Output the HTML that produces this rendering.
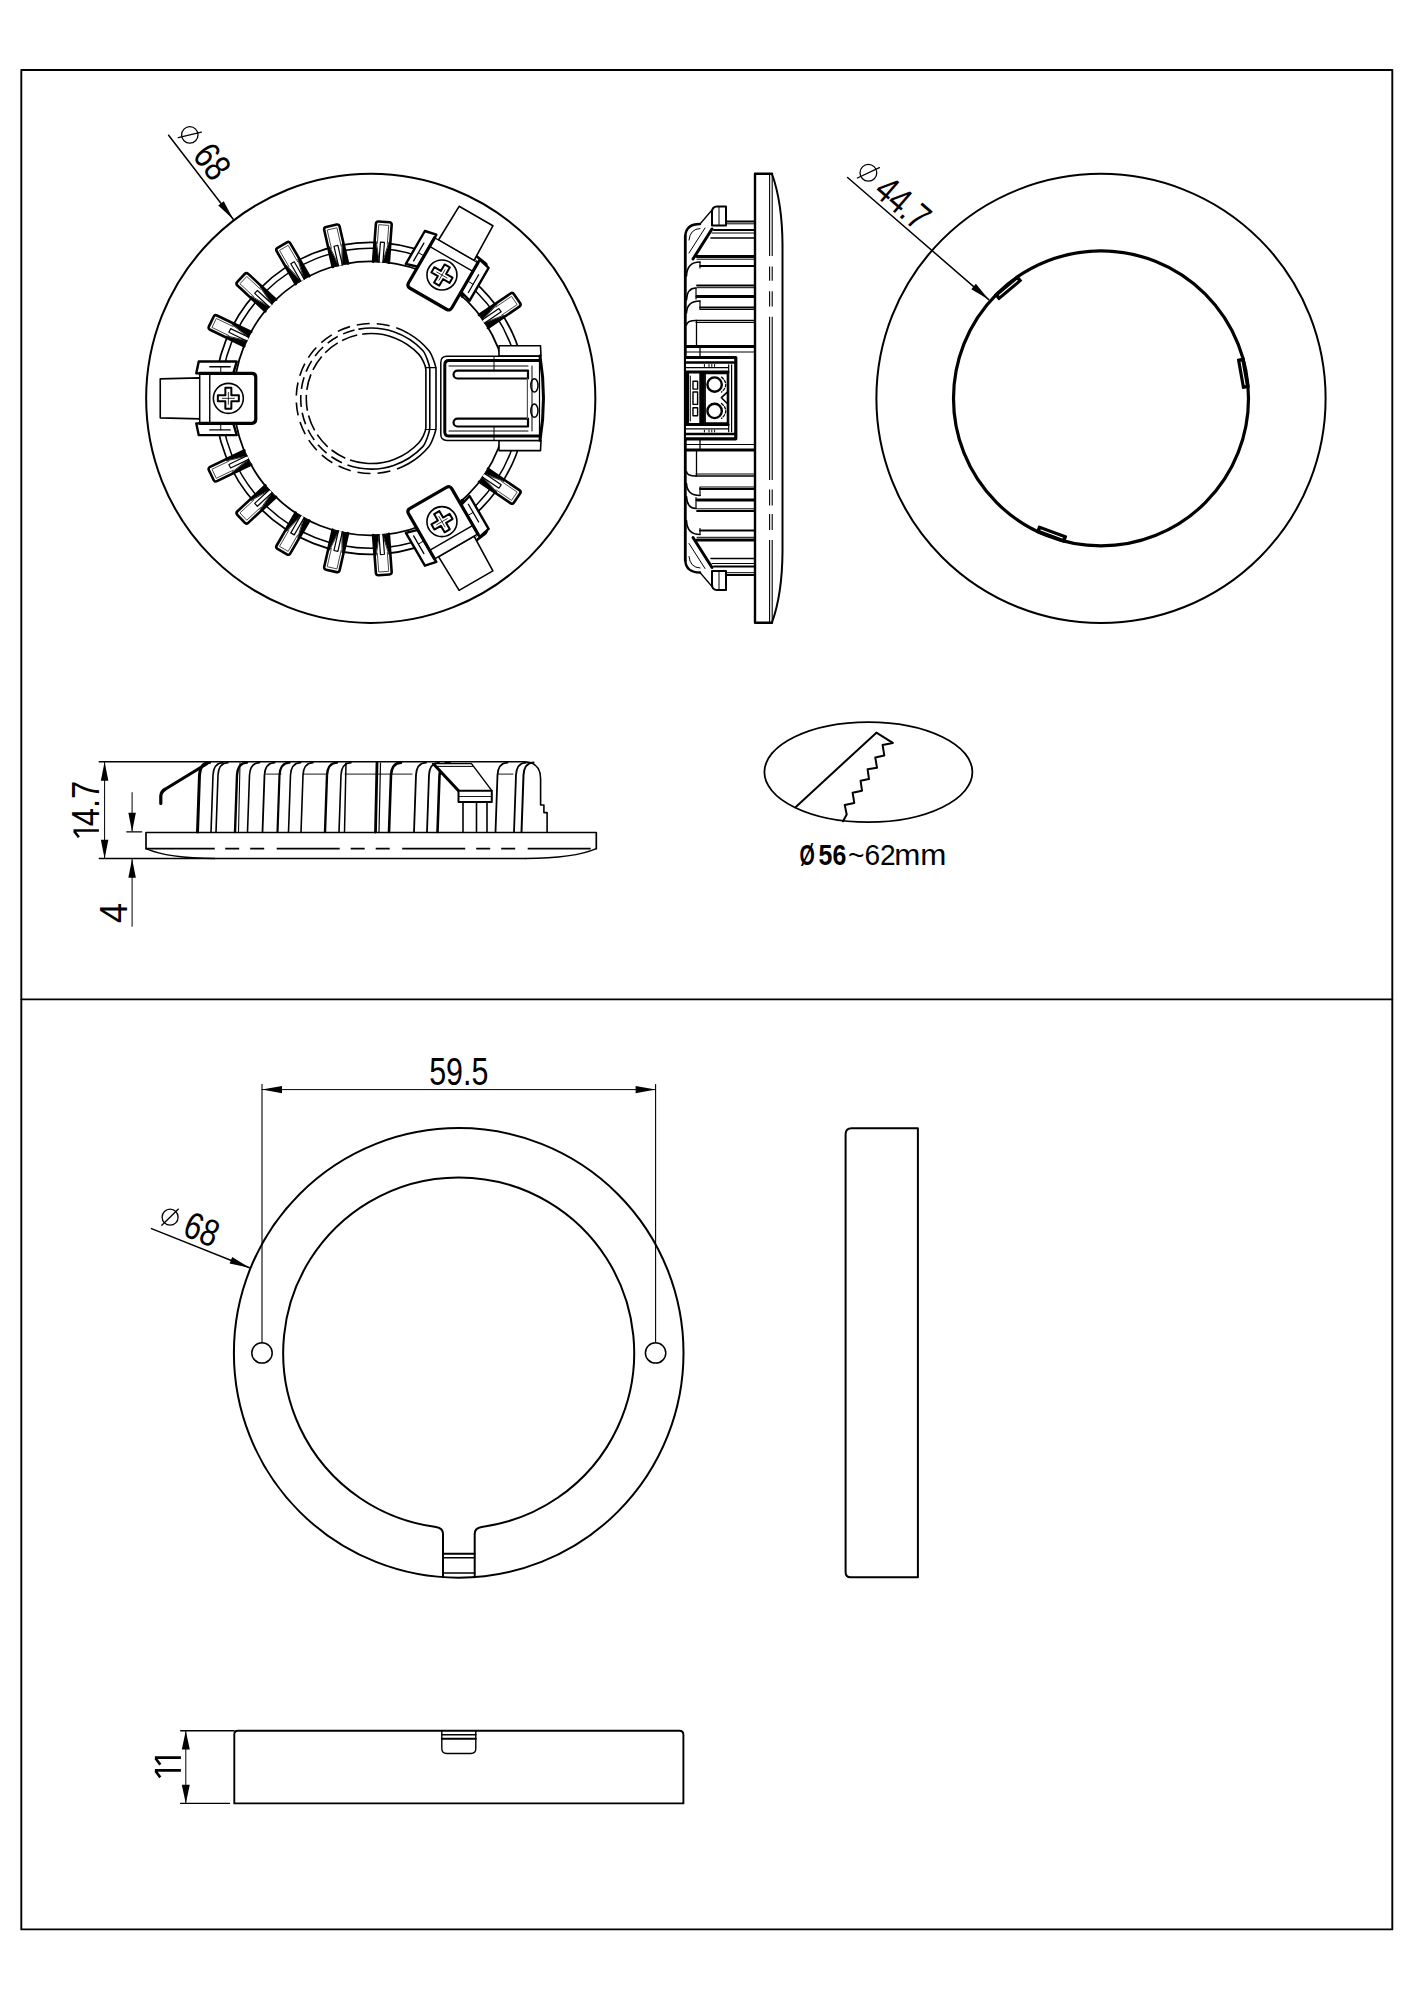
<!DOCTYPE html>
<html><head><meta charset="utf-8"><title>Drawing</title>
<style>
html,body{margin:0;padding:0;background:#fff;overflow:hidden;width:1414px;height:2000px;}
svg{display:block;}
text{font-family:"Liberation Sans",sans-serif;fill:#000;stroke:none;}
</style></head>
<body>
<svg width="1414" height="2000" viewBox="0 0 1414 2000" stroke="#000" fill="none" stroke-linecap="round" stroke-linejoin="round">
<rect x="0" y="0" width="1414" height="2000" fill="#fff" stroke="none"/>
<rect x="21.3" y="70" width="1371" height="1859.4" fill="none" stroke-width="1.9"/>
<line x1="21.3" y1="999.4" x2="1392.3" y2="999.4" stroke-width="1.8" />
<circle cx="370.75" cy="398.35" r="224.6" stroke-width="2.0" fill="none" />
<circle cx="370.75" cy="398.35" r="156" stroke-width="1.7" fill="none" />
<circle cx="370.75" cy="398.35" r="150" stroke-width="1.5" fill="none" />
<circle cx="370.75" cy="398.35" r="137" stroke-width="1.8" fill="none" />
<path d="M244.34,346.24 L210.1,329.75 Q207.85,328.67 208.94,326.42 L213.62,316.69 Q214.71,314.43 216.96,315.52 L251.2,332.01" stroke-width="2.6" fill="#fff" />
<path d="M228.93,335.6 L211.99,327.45 L216.33,318.44 L233.27,326.59" stroke-width="0.9" fill="none" stroke="#333"/>
<path d="M246.9,340.93 L228.88,332.25 L230.62,328.65 L248.64,337.32" stroke-width="1.2" fill="#fff" />
<path d="M246.9,340.93 L244.34,346.24 L225.87,337.35 L226.39,336.27 Z" stroke-width="0.8" fill="#000" />
<path d="M248.64,337.32 L251.2,332.01 L232.73,323.11 L232.2,324.19 Z" stroke-width="0.8" fill="#000" />
<path d="M265.32,311.3 L237.46,285.45 Q235.63,283.75 237.33,281.92 L244.67,274 Q246.37,272.17 248.21,273.87 L276.06,299.72" stroke-width="2.6" fill="#fff" />
<path d="M253.73,296.59 L239.94,283.8 L246.75,276.47 L260.53,289.26" stroke-width="0.9" fill="none" stroke="#333"/>
<path d="M269.33,306.97 L254.67,293.37 L257.39,290.44 L272.05,304.04" stroke-width="1.2" fill="#fff" />
<path d="M269.33,306.97 L265.32,311.3 L250.29,297.35 L251.1,296.47 Z" stroke-width="0.8" fill="#000" />
<path d="M272.05,304.04 L276.06,299.72 L261.03,285.77 L260.22,286.65 Z" stroke-width="0.8" fill="#000" />
<path d="M295.66,284.09 L276.66,251.18 Q275.41,249.01 277.57,247.76 L286.93,242.36 Q289.09,241.11 290.34,243.28 L309.34,276.19" stroke-width="2.6" fill="#fff" />
<path d="M288.92,266.62 L279.52,250.33 L288.18,245.33 L297.58,261.62" stroke-width="0.9" fill="none" stroke="#333"/>
<path d="M300.77,281.14 L290.77,263.82 L294.23,261.82 L304.23,279.14" stroke-width="1.2" fill="#fff" />
<path d="M300.77,281.14 L295.66,284.09 L285.41,266.33 L286.45,265.73 Z" stroke-width="0.8" fill="#000" />
<path d="M304.23,279.14 L309.34,276.19 L299.09,258.43 L298.05,259.03 Z" stroke-width="0.8" fill="#000" />
<path d="M332.67,267.03 L324.22,229.98 Q323.66,227.55 326.1,226.99 L336.63,224.59 Q339.07,224.03 339.62,226.47 L348.08,263.51" stroke-width="2.6" fill="#fff" />
<path d="M331.38,248.35 L327.2,230.02 L336.95,227.79 L341.13,246.12" stroke-width="0.9" fill="none" stroke="#333"/>
<path d="M338.43,265.72 L333.98,246.22 L337.88,245.33 L342.33,264.83" stroke-width="1.2" fill="#fff" />
<path d="M338.43,265.72 L332.67,267.03 L328.11,247.04 L329.28,246.78 Z" stroke-width="0.8" fill="#000" />
<path d="M342.33,264.83 L348.08,263.51 L343.52,243.53 L342.35,243.8 Z" stroke-width="0.8" fill="#000" />
<path d="M373.07,261.64 L375.91,223.75 Q376.1,221.25 378.59,221.44 L389.36,222.25 Q391.86,222.44 391.67,224.93 L388.83,262.82" stroke-width="2.6" fill="#fff" />
<path d="M377.35,243.41 L378.75,224.66 L388.72,225.41 L387.32,244.16" stroke-width="0.9" fill="none" stroke="#333"/>
<path d="M378.96,262.08 L380.45,242.14 L384.44,242.44 L382.95,262.38" stroke-width="1.2" fill="#fff" />
<path d="M378.96,262.08 L373.07,261.64 L374.6,241.2 L375.8,241.29 Z" stroke-width="0.8" fill="#000" />
<path d="M382.95,262.38 L388.83,262.82 L390.36,242.38 L389.16,242.29 Z" stroke-width="0.8" fill="#000" />
<path d="M449.68,286.7 L473.37,256.99 Q474.93,255.04 476.89,256.6 L485.33,263.33 Q487.28,264.89 485.73,266.85 L462.03,296.56" stroke-width="2.6" fill="#fff" />
<path d="M463.48,274.05 L475.2,259.35 L483.02,265.59 L471.3,280.28" stroke-width="0.9" fill="none" stroke="#333"/>
<path d="M454.29,290.38 L466.76,274.75 L469.89,277.24 L457.42,292.88" stroke-width="1.2" fill="#fff" />
<path d="M454.29,290.38 L449.68,286.7 L462.46,270.68 L463.4,271.43 Z" stroke-width="0.8" fill="#000" />
<path d="M457.42,292.88 L462.03,296.56 L474.81,280.53 L473.88,279.78 Z" stroke-width="0.8" fill="#000" />
<path d="M479.08,314.93 L510.48,293.52 Q512.54,292.12 513.95,294.18 L520.04,303.1 Q521.44,305.17 519.38,306.58 L487.98,327.98" stroke-width="2.6" fill="#fff" />
<path d="M496,306.9 L511.53,296.31 L517.17,304.58 L501.63,315.17" stroke-width="0.9" fill="none" stroke="#333"/>
<path d="M482.4,319.8 L498.93,308.54 L501.18,311.84 L484.66,323.11" stroke-width="1.2" fill="#fff" />
<path d="M482.4,319.8 L479.08,314.93 L496.02,303.38 L496.7,304.37 Z" stroke-width="0.8" fill="#000" />
<path d="M484.66,323.11 L487.98,327.98 L504.92,316.44 L504.24,315.44 Z" stroke-width="0.8" fill="#000" />
<path d="M487.98,468.72 L519.38,490.12 Q521.44,491.53 520.04,493.6 L513.95,502.52 Q512.54,504.58 510.48,503.18 L479.08,481.77" stroke-width="2.6" fill="#fff" />
<path d="M501.63,481.53 L517.17,492.12 L511.53,500.39 L496,489.8" stroke-width="0.9" fill="none" stroke="#333"/>
<path d="M484.66,473.59 L501.18,484.86 L498.93,488.16 L482.4,476.9" stroke-width="1.2" fill="#fff" />
<path d="M484.66,473.59 L487.98,468.72 L504.92,480.26 L504.24,481.26 Z" stroke-width="0.8" fill="#000" />
<path d="M482.4,476.9 L479.08,481.77 L496.02,493.32 L496.7,492.33 Z" stroke-width="0.8" fill="#000" />
<path d="M462.03,500.14 L485.73,529.85 Q487.28,531.81 485.33,533.37 L476.89,540.1 Q474.93,541.66 473.37,539.71 L449.68,510" stroke-width="2.6" fill="#fff" />
<path d="M471.3,516.42 L483.02,531.11 L475.2,537.35 L463.48,522.65" stroke-width="0.9" fill="none" stroke="#333"/>
<path d="M457.42,503.82 L469.89,519.46 L466.76,521.95 L454.29,506.32" stroke-width="1.2" fill="#fff" />
<path d="M457.42,503.82 L462.03,500.14 L474.81,516.17 L473.88,516.92 Z" stroke-width="0.8" fill="#000" />
<path d="M454.29,506.32 L449.68,510 L462.46,526.02 L463.4,525.27 Z" stroke-width="0.8" fill="#000" />
<path d="M388.83,533.88 L391.67,571.77 Q391.86,574.26 389.36,574.45 L378.59,575.26 Q376.1,575.45 375.91,572.95 L373.07,535.06" stroke-width="2.6" fill="#fff" />
<path d="M387.32,552.54 L388.72,571.29 L378.75,572.04 L377.35,553.29" stroke-width="0.9" fill="none" stroke="#333"/>
<path d="M382.95,534.32 L384.44,554.26 L380.45,554.56 L378.96,534.62" stroke-width="1.2" fill="#fff" />
<path d="M382.95,534.32 L388.83,533.88 L390.36,554.32 L389.16,554.41 Z" stroke-width="0.8" fill="#000" />
<path d="M378.96,534.62 L373.07,535.06 L374.6,555.5 L375.8,555.41 Z" stroke-width="0.8" fill="#000" />
<path d="M348.08,533.19 L339.62,570.23 Q339.07,572.67 336.63,572.11 L326.1,569.71 Q323.66,569.15 324.22,566.72 L332.67,529.67" stroke-width="2.6" fill="#fff" />
<path d="M341.13,550.58 L336.95,568.91 L327.2,566.68 L331.38,548.35" stroke-width="0.9" fill="none" stroke="#333"/>
<path d="M342.33,531.87 L337.88,551.37 L333.98,550.48 L338.43,530.98" stroke-width="1.2" fill="#fff" />
<path d="M342.33,531.87 L348.08,533.19 L343.52,553.17 L342.35,552.9 Z" stroke-width="0.8" fill="#000" />
<path d="M338.43,530.98 L332.67,529.67 L328.11,549.66 L329.28,549.92 Z" stroke-width="0.8" fill="#000" />
<path d="M309.34,520.51 L290.34,553.42 Q289.09,555.59 286.93,554.34 L277.57,548.94 Q275.41,547.69 276.66,545.52 L295.66,512.61" stroke-width="2.6" fill="#fff" />
<path d="M297.58,535.08 L288.18,551.37 L279.52,546.37 L288.92,530.08" stroke-width="0.9" fill="none" stroke="#333"/>
<path d="M304.23,517.56 L294.23,534.88 L290.77,532.88 L300.77,515.56" stroke-width="1.2" fill="#fff" />
<path d="M304.23,517.56 L309.34,520.51 L299.09,538.27 L298.05,537.67 Z" stroke-width="0.8" fill="#000" />
<path d="M300.77,515.56 L295.66,512.61 L285.41,530.37 L286.45,530.97 Z" stroke-width="0.8" fill="#000" />
<path d="M276.06,496.98 L248.21,522.83 Q246.37,524.53 244.67,522.7 L237.33,514.78 Q235.63,512.95 237.46,511.25 L265.32,485.4" stroke-width="2.6" fill="#fff" />
<path d="M260.53,507.44 L246.75,520.23 L239.94,512.9 L253.73,500.11" stroke-width="0.9" fill="none" stroke="#333"/>
<path d="M272.05,492.66 L257.39,506.26 L254.67,503.33 L269.33,489.73" stroke-width="1.2" fill="#fff" />
<path d="M272.05,492.66 L276.06,496.98 L261.03,510.93 L260.22,510.05 Z" stroke-width="0.8" fill="#000" />
<path d="M269.33,489.73 L265.32,485.4 L250.29,499.35 L251.1,500.23 Z" stroke-width="0.8" fill="#000" />
<path d="M251.2,464.69 L216.96,481.18 Q214.71,482.27 213.62,480.01 L208.94,470.28 Q207.85,468.03 210.1,466.95 L244.34,450.46" stroke-width="2.6" fill="#fff" />
<path d="M233.27,470.11 L216.33,478.26 L211.99,469.25 L228.93,461.1" stroke-width="0.9" fill="none" stroke="#333"/>
<path d="M248.64,459.38 L230.62,468.05 L228.88,464.45 L246.9,455.77" stroke-width="1.2" fill="#fff" />
<path d="M248.64,459.38 L251.2,464.69 L232.73,473.59 L232.2,472.51 Z" stroke-width="0.8" fill="#000" />
<path d="M246.9,455.77 L244.34,450.46 L225.87,459.35 L226.39,460.43 Z" stroke-width="0.8" fill="#000" />
<path d="M233.25,423.35 L236.75,435.15 L198.75,435.15 L196.25,423.35 Z" stroke-width="2.4" fill="#fff" />
<path d="M230.25,429.95 L209.75,429.95" stroke-width="1.3" fill="none" />
<path d="M220.75,429.95 L220.75,423.85" stroke-width="1.0" fill="none" />
<path d="M233.25,373.35 L236.75,361.55 L198.75,361.55 L196.25,373.35 Z" stroke-width="2.4" fill="#fff" />
<path d="M230.25,366.75 L209.75,366.75" stroke-width="1.3" fill="none" />
<path d="M220.75,366.75 L220.75,372.85" stroke-width="1.0" fill="none" />
<path d="M199.75,418.85 L160.25,417.85 L160.25,378.85 L199.75,377.85 Z" stroke-width="1.6" fill="#fff" />
<path d="M199.75,423.35 L251.75,423.35 Q255.75,423.35 255.75,419.35 L255.75,377.35 Q255.75,373.35 251.75,373.35 L199.75,373.35" stroke-width="3.2" fill="#fff" />
<line x1="199.75" y1="423.35" x2="199.75" y2="373.35" stroke-width="1.4" />
<line x1="209.75" y1="423.35" x2="209.75" y2="373.35" stroke-width="1.4" />
<circle cx="228.35" cy="398.35" r="15" stroke-width="1.6" fill="none" />
<path d="M217.85,401.35 L225.35,401.35 L225.35,408.85 L231.35,408.85 L231.35,401.35 L238.85,401.35 L238.85,395.35 L231.35,395.35 L231.35,387.85 L225.35,387.85 L225.35,395.35 L217.85,395.35 Z" stroke-width="2.0" fill="#fff" />
<line x1="234.35" y1="398.35" x2="222.35" y2="398.35" stroke-width="0.8" />
<line x1="228.35" y1="404.35" x2="228.35" y2="392.35" stroke-width="0.8" />
<path d="M417.85,266.77 L405.88,263.9 L424.88,230.99 L436.35,234.73 Z" stroke-width="2.4" fill="#fff" />
<path d="M413.63,260.87 L423.88,243.12" stroke-width="1.3" fill="none" />
<path d="M418.38,252.65 L423.67,255.7" stroke-width="1.0" fill="none" />
<path d="M461.15,291.77 L469.62,300.7 L488.62,267.79 L479.65,259.73 Z" stroke-width="2.4" fill="#fff" />
<path d="M468.37,292.47 L478.62,274.72" stroke-width="1.3" fill="none" />
<path d="M473.12,284.25 L467.83,281.2" stroke-width="1.0" fill="none" />
<path d="M438.5,240.01 L459.11,206.3 L492.89,225.8 L474,260.51 Z" stroke-width="1.6" fill="#fff" />
<path d="M434.6,237.76 L408.6,282.79 Q406.6,286.26 410.06,288.26 L446.44,309.26 Q449.9,311.26 451.9,307.79 L477.9,262.76" stroke-width="3.2" fill="#fff" />
<line x1="434.6" y1="237.76" x2="477.9" y2="262.76" stroke-width="1.4" />
<line x1="429.6" y1="246.42" x2="472.9" y2="271.42" stroke-width="1.4" />
<circle cx="441.95" cy="275.03" r="15" stroke-width="1.6" fill="none" />
<path d="M444.6,264.43 L440.85,270.93 L434.36,267.18 L431.36,272.38 L437.85,276.13 L434.1,282.62 L439.3,285.62 L443.05,279.13 L449.54,282.88 L452.54,277.68 L446.05,273.93 L449.8,267.43 Z" stroke-width="2.0" fill="#fff" />
<line x1="438.95" y1="280.22" x2="444.95" y2="269.83" stroke-width="0.8" />
<line x1="436.75" y1="272.03" x2="447.15" y2="278.03" stroke-width="0.8" />
<path d="M461.15,504.93 L469.62,496 L488.62,528.91 L479.65,536.97 Z" stroke-width="2.4" fill="#fff" />
<path d="M468.37,504.23 L478.62,521.98" stroke-width="1.3" fill="none" />
<path d="M473.12,512.45 L467.83,515.5" stroke-width="1.0" fill="none" />
<path d="M417.85,529.93 L405.88,532.8 L424.88,565.71 L436.35,561.97 Z" stroke-width="2.4" fill="#fff" />
<path d="M413.63,535.83 L423.88,553.58" stroke-width="1.3" fill="none" />
<path d="M418.38,544.05 L423.67,541" stroke-width="1.0" fill="none" />
<path d="M474,536.19 L492.89,570.9 L459.11,590.4 L438.5,556.69 Z" stroke-width="1.6" fill="#fff" />
<path d="M477.9,533.94 L451.9,488.91 Q449.9,485.44 446.44,487.44 L410.06,508.44 Q406.6,510.44 408.6,513.91 L434.6,558.94" stroke-width="3.2" fill="#fff" />
<line x1="477.9" y1="533.94" x2="434.6" y2="558.94" stroke-width="1.4" />
<line x1="472.9" y1="525.28" x2="429.6" y2="550.28" stroke-width="1.4" />
<circle cx="441.95" cy="521.67" r="15" stroke-width="1.6" fill="none" />
<path d="M449.8,529.27 L446.05,522.77 L452.54,519.02 L449.54,513.82 L443.05,517.57 L439.3,511.08 L434.1,514.08 L437.85,520.57 L431.36,524.32 L434.36,529.52 L440.85,525.77 L444.6,532.27 Z" stroke-width="2.0" fill="#fff" />
<line x1="438.95" y1="516.48" x2="444.95" y2="526.87" stroke-width="0.8" />
<line x1="447.15" y1="518.67" x2="436.75" y2="524.67" stroke-width="0.8" />
<path d="M499,345.8 L540.5,345.8 L541,356 L499,356 Z" stroke-width="1.6" fill="#fff" />
<path d="M499,450.6 L540.5,450.6 L541,440.4 L499,440.4 Z" stroke-width="1.6" fill="#fff" />
<path d="M540,356.2 L447,356.2 Q440.8,356.2 440.8,362.4 L440.8,434.2 Q440.8,440.4 447,440.4 L540,440.4" stroke-width="1.5" fill="#fff" />
<path d="M540,360.5 L449,360.5 Q444.8,360.5 444.8,364.7 L444.8,431.9 Q444.8,436.1 449,436.1 L540,436.1" stroke-width="3.0" fill="none" />
<path d="M540,356 Q547,398.3 540,440.6" stroke-width="3.0" fill="none" />
<line x1="539.5" y1="357" x2="539.5" y2="440" stroke-width="1.2" />
<path d="M457.5,370.6 L528,370.6 L528,378.5 L457.5,378.5 A3.95,3.95 0 0 1 457.5,370.6 Z" stroke-width="2.2" fill="#fff" />
<path d="M457.5,418.6 L528,418.6 L528,426.5 L457.5,426.5 A3.95,3.95 0 0 1 457.5,418.6 Z" stroke-width="2.2" fill="#fff" />
<line x1="527.4" y1="378.5" x2="527.4" y2="418.6" stroke-width="1.2" stroke="#555"/>
<line x1="449" y1="366" x2="528" y2="366" stroke-width="1.0" />
<line x1="449" y1="431" x2="528" y2="431" stroke-width="1.0" />
<ellipse cx="534.4" cy="385.4" rx="3.6" ry="6.6" stroke-width="1.5" fill="#fff"/>
<ellipse cx="534.4" cy="410.7" rx="3.6" ry="6.6" stroke-width="1.5" fill="#fff"/>
<line x1="494" y1="356.5" x2="494" y2="370.5" stroke-width="1.0" />
<line x1="494" y1="426.5" x2="494" y2="440" stroke-width="1.0" />
<line x1="532" y1="366" x2="532" y2="431" stroke-width="1.0" />
<path d="M408.75,333.6 A75,75 0 0 1 429,350.7 C431.55,353.78 436,365.6 436,369.6 L436,427.5 C436,431.5 431.55,443.32 429,446.4 A75,75 0 0 1 408.75,463.5" stroke-width="1.6" fill="none" />
<path d="M408.75,463.5 A75,75 0 1 1 408.75,333.6" stroke-width="1.6" fill="none" stroke-dasharray="13 7" stroke-linecap="butt"/>
<path d="M359.01,329.12 A70.5,70.5 0 0 1 422.8,350.46 C425.53,353.38 429.8,365.6 429.8,369.6 L429.8,427.5 C429.8,431.5 425.53,443.72 422.8,446.64 A70.5,70.5 0 0 1 359.01,467.98" stroke-width="1.6" fill="none" />
<path d="M359.01,467.98 A70.5,70.5 0 0 1 359.01,329.12" stroke-width="1.6" fill="none" stroke-dasharray="12 6" stroke-linecap="butt"/>
<path d="M365.58,333.8 A65,65 0 0 1 418.9,354.34 C421.62,357.27 425.9,365.6 425.9,369.6 L425.9,427.5 C425.9,431.5 421.62,439.83 418.9,442.76 A65,65 0 0 1 365.58,463.3" stroke-width="1.6" fill="none" />
<path d="M365.58,463.3 A65,65 0 0 1 365.58,333.8" stroke-width="1.6" fill="none" stroke-dasharray="16 5" stroke-linecap="butt"/>
<line x1="425.9" y1="367.6" x2="436" y2="367.6" stroke-width="1.2" />
<line x1="425.9" y1="429.5" x2="436" y2="429.5" stroke-width="1.2" />
<line x1="168.6" y1="135.2" x2="233.2" y2="219.2" stroke-width="1.5" />
<path d="M233.2,219.2 L218.23,205.48 L223.78,201.21 Z" fill="#000" stroke="none"/>
<circle cx="189.8" cy="134.9" r="8.2" stroke-width="1.3" fill="none" />
<line x1="178.24" y1="137.7" x2="201.36" y2="132.1" stroke-width="1.3" />
<text transform="translate(191.57,156.01) rotate(52.4) scale(0.8,1)" font-size="38" text-anchor="start" font-weight="normal" >68</text>
<path d="M772,173.8 L755,173.8 L755,622.7 L772,622.7" stroke-width="2.4" fill="none" />
<path d="M772,174 C778.5,192 782.3,215 782.5,245 L782.5,551.5 C782.3,581.5 778.5,604.5 772,622.5" stroke-width="2.0" fill="none" />
<line x1="769.6" y1="174" x2="769.6" y2="256" stroke-width="1.1" stroke-linecap="butt"/>
<line x1="772.2" y1="174" x2="772.2" y2="256" stroke-width="1.1" stroke-linecap="butt"/>
<line x1="769.6" y1="266.4" x2="769.6" y2="280.8" stroke-width="1.1" stroke-linecap="butt"/>
<line x1="772.2" y1="266.4" x2="772.2" y2="280.8" stroke-width="1.1" stroke-linecap="butt"/>
<line x1="769.6" y1="291.2" x2="769.6" y2="306.4" stroke-width="1.1" stroke-linecap="butt"/>
<line x1="772.2" y1="291.2" x2="772.2" y2="306.4" stroke-width="1.1" stroke-linecap="butt"/>
<line x1="769.6" y1="316.8" x2="769.6" y2="480" stroke-width="1.1" stroke-linecap="butt"/>
<line x1="772.2" y1="316.8" x2="772.2" y2="480" stroke-width="1.1" stroke-linecap="butt"/>
<line x1="769.6" y1="489.6" x2="769.6" y2="505.6" stroke-width="1.1" stroke-linecap="butt"/>
<line x1="772.2" y1="489.6" x2="772.2" y2="505.6" stroke-width="1.1" stroke-linecap="butt"/>
<line x1="769.6" y1="514" x2="769.6" y2="530" stroke-width="1.1" stroke-linecap="butt"/>
<line x1="772.2" y1="514" x2="772.2" y2="530" stroke-width="1.1" stroke-linecap="butt"/>
<line x1="769.6" y1="540" x2="769.6" y2="622.5" stroke-width="1.1" stroke-linecap="butt"/>
<line x1="772.2" y1="540" x2="772.2" y2="622.5" stroke-width="1.1" stroke-linecap="butt"/>
<line x1="685.3" y1="236" x2="685.3" y2="560.5" stroke-width="2.8" />
<path d="M712,212 Q712,206.5 717,206.5 L726,206.5 L726,225.5 L712,225.5 Z" stroke-width="2.0" fill="#fff" />
<line x1="719" y1="206.5" x2="719" y2="225.5" stroke-width="1.0" />
<path d="M685.3,236 Q686,224 700,224" stroke-width="2.4" fill="none" />
<path d="M689,240 Q690,229 700,228.5" stroke-width="1.0" fill="none" />
<line x1="712" y1="210" x2="700" y2="224" stroke-width="1.3" />
<line x1="712" y1="229" x2="693" y2="259" stroke-width="3.0" />
<line x1="705" y1="228" x2="689" y2="253" stroke-width="1.0" />
<line x1="726" y1="221.5" x2="754" y2="221.5" stroke-width="2.2" />
<line x1="726" y1="223.8" x2="754" y2="223.8" stroke-width="1.0" />
<line x1="714" y1="230" x2="754" y2="230" stroke-width="2.0" />
<line x1="712" y1="233" x2="754" y2="233" stroke-width="1.0" />
<line x1="711" y1="238" x2="754" y2="238" stroke-width="1.6" />
<line x1="697" y1="256.5" x2="754" y2="256.5" stroke-width="3.0" />
<line x1="697" y1="259.2" x2="754" y2="259.2" stroke-width="1.0" />
<line x1="700" y1="266" x2="754" y2="266" stroke-width="1.8" />
<line x1="697" y1="285.5" x2="754" y2="285.5" stroke-width="1.8" />
<line x1="697" y1="287.7" x2="754" y2="287.7" stroke-width="1.0" />
<line x1="697" y1="296.5" x2="754" y2="296.5" stroke-width="2.8" />
<line x1="700" y1="307.5" x2="754" y2="307.5" stroke-width="1.8" />
<line x1="700" y1="309.5" x2="754" y2="309.5" stroke-width="1.0" />
<line x1="696" y1="320.5" x2="754" y2="320.5" stroke-width="1.6" />
<line x1="696" y1="322.5" x2="754" y2="322.5" stroke-width="1.0" />
<line x1="686" y1="346.5" x2="754" y2="346.5" stroke-width="3.0" />
<line x1="686" y1="352" x2="754" y2="352" stroke-width="1.0" />
<path d="M686.5,276 Q687,262 700,262" stroke-width="1.6" fill="none" />
<path d="M686.5,300 Q687,288 696,288" stroke-width="1.6" fill="none" />
<path d="M686.5,313 Q687,301 700,301" stroke-width="1.6" fill="none" />
<path d="M686.5,325 Q687,320.5 696,320.5" stroke-width="1.6" fill="none" />
<line x1="700" y1="262" x2="700" y2="268" stroke-width="1.2" />
<line x1="696" y1="288" x2="696" y2="299" stroke-width="1.2" />
<line x1="700" y1="301" x2="700" y2="309" stroke-width="1.2" />
<line x1="696.5" y1="320.5" x2="696.5" y2="346" stroke-width="1.3" />
<line x1="700" y1="347" x2="700" y2="360" stroke-width="1.3" />
<path d="M712,584.5 Q712,590 717,590 L726,590 L726,571 L712,571 Z" stroke-width="2.0" fill="#fff" />
<line x1="719" y1="590" x2="719" y2="571" stroke-width="1.0" />
<path d="M685.3,560.5 Q686,572.5 700,572.5" stroke-width="2.4" fill="none" />
<path d="M689,556.5 Q690,567.5 700,568" stroke-width="1.0" fill="none" />
<line x1="712" y1="586.5" x2="700" y2="572.5" stroke-width="1.3" />
<line x1="712" y1="567.5" x2="693" y2="537.5" stroke-width="3.0" />
<line x1="705" y1="568.5" x2="689" y2="543.5" stroke-width="1.0" />
<line x1="726" y1="575" x2="754" y2="575" stroke-width="2.2" />
<line x1="726" y1="572.7" x2="754" y2="572.7" stroke-width="1.0" />
<line x1="714" y1="566.5" x2="754" y2="566.5" stroke-width="2.0" />
<line x1="712" y1="563.5" x2="754" y2="563.5" stroke-width="1.0" />
<line x1="711" y1="558.5" x2="754" y2="558.5" stroke-width="1.6" />
<line x1="697" y1="540" x2="754" y2="540" stroke-width="3.0" />
<line x1="697" y1="537.3" x2="754" y2="537.3" stroke-width="1.0" />
<line x1="700" y1="530.5" x2="754" y2="530.5" stroke-width="1.8" />
<line x1="697" y1="511" x2="754" y2="511" stroke-width="1.8" />
<line x1="697" y1="508.8" x2="754" y2="508.8" stroke-width="1.0" />
<line x1="697" y1="500" x2="754" y2="500" stroke-width="2.8" />
<line x1="700" y1="489" x2="754" y2="489" stroke-width="1.8" />
<line x1="700" y1="487" x2="754" y2="487" stroke-width="1.0" />
<line x1="696" y1="476" x2="754" y2="476" stroke-width="1.6" />
<line x1="696" y1="474" x2="754" y2="474" stroke-width="1.0" />
<line x1="686" y1="450" x2="754" y2="450" stroke-width="3.0" />
<line x1="686" y1="444.5" x2="754" y2="444.5" stroke-width="1.0" />
<path d="M686.5,520.5 Q687,534.5 700,534.5" stroke-width="1.6" fill="none" />
<path d="M686.5,496.5 Q687,508.5 696,508.5" stroke-width="1.6" fill="none" />
<path d="M686.5,483.5 Q687,495.5 700,495.5" stroke-width="1.6" fill="none" />
<path d="M686.5,471.5 Q687,476 696,476" stroke-width="1.6" fill="none" />
<line x1="700" y1="534.5" x2="700" y2="528.5" stroke-width="1.2" />
<line x1="696" y1="508.5" x2="696" y2="497.5" stroke-width="1.2" />
<line x1="700" y1="495.5" x2="700" y2="487.5" stroke-width="1.2" />
<line x1="696.5" y1="476" x2="696.5" y2="450.5" stroke-width="1.3" />
<line x1="700" y1="449.5" x2="700" y2="436.5" stroke-width="1.3" />
<path d="M686,357.5 L735.8,357.5 L735.8,438.8 L686,438.8" stroke-width="3.2" fill="#fff" />
<line x1="728.7" y1="364.8" x2="728.7" y2="431.7" stroke-width="1.2" />
<line x1="731.6" y1="364.8" x2="731.6" y2="431.7" stroke-width="1.2" />
<line x1="686" y1="362.5" x2="734" y2="362.5" stroke-width="2.4" />
<line x1="686" y1="367.6" x2="728" y2="367.6" stroke-width="1.2" />
<line x1="686" y1="372" x2="728" y2="372" stroke-width="3.0" />
<line x1="704.4" y1="364.5" x2="704.4" y2="366.5" stroke-width="1.0" />
<line x1="709" y1="364.5" x2="709" y2="366.5" stroke-width="1.0" />
<line x1="711.8" y1="364.5" x2="711.8" y2="366.5" stroke-width="1.0" />
<line x1="714.6" y1="364.5" x2="714.6" y2="366.5" stroke-width="1.0" />
<line x1="686" y1="434" x2="734" y2="434" stroke-width="2.4" />
<line x1="686" y1="428.9" x2="728" y2="428.9" stroke-width="1.2" />
<line x1="686" y1="424.5" x2="728" y2="424.5" stroke-width="3.0" />
<line x1="704.4" y1="432" x2="704.4" y2="430" stroke-width="1.0" />
<line x1="709" y1="432" x2="709" y2="430" stroke-width="1.0" />
<line x1="711.8" y1="432" x2="711.8" y2="430" stroke-width="1.0" />
<line x1="714.6" y1="432" x2="714.6" y2="430" stroke-width="1.0" />
<rect x="699.3" y="371.6" width="5.1" height="53.3" fill="#000" stroke="none"/>
<line x1="687.4" y1="373" x2="687.4" y2="423.5" stroke-width="3.4" />
<line x1="690.3" y1="376" x2="690.3" y2="421" stroke-width="1.0" />
<rect x="693" y="381.2" width="4.6" height="7.9" fill="#fff" stroke-width="1.4"/>
<rect x="693" y="392" width="4.6" height="12.4" fill="#fff" stroke-width="1.4"/>
<rect x="693" y="407.8" width="4.6" height="7.9" fill="#fff" stroke-width="1.4"/>
<rect x="705" y="373.3" width="22.6" height="49.8" fill="#fff" stroke-width="1.8"/>
<circle cx="714.6" cy="384.6" r="7.2" stroke-width="2.4" fill="#fff" />
<path d="M721.5,377.1 Q730,384.6 721.5,392.1" stroke-width="1.3" fill="none" stroke-dasharray="2.5 1.8"/>
<circle cx="714.6" cy="410.9" r="7.2" stroke-width="2.4" fill="#fff" />
<path d="M721.5,403.4 Q730,410.9 721.5,418.4" stroke-width="1.3" fill="none" stroke-dasharray="2.5 1.8"/>
<path d="M727,392.3 L721.4,397.7 L727,403.3" stroke-width="1.6" fill="none" />
<circle cx="1101" cy="398.4" r="224.6" stroke-width="2.0" fill="none" />
<circle cx="1101" cy="398.4" r="147.5" stroke-width="3.2" fill="none" />
<path d="M995.08,294.73 L1017.3,276.09 L1021.15,280.68 L998.94,299.33 Z" stroke-width="1.8" fill="#000" />
<line x1="999.44" y1="295.25" x2="1017.06" y2="280.47" stroke-width="1.1" stroke="#fff"/>
<path d="M1243.74,358.51 L1248.78,387.07 L1242.87,388.11 L1237.83,359.55 Z" stroke-width="1.8" fill="#000" />
<line x1="1241.11" y1="362.02" x2="1245.1" y2="384.67" stroke-width="1.1" stroke="#fff"/>
<path d="M1064.18,541.96 L1036.93,532.05 L1038.98,526.41 L1066.23,536.33 Z" stroke-width="1.8" fill="#000" />
<line x1="1062.45" y1="537.93" x2="1040.84" y2="530.06" stroke-width="1.1" stroke="#fff"/>
<line x1="847.6" y1="177.5" x2="988.7" y2="299.6" stroke-width="1.5" />
<path d="M988.7,299.6 L971.29,289.16 L975.87,283.87 Z" fill="#000" stroke="none"/>
<circle cx="868.4" cy="172.8" r="8.4" stroke-width="1.3" fill="none" />
<line x1="857.37" y1="177.97" x2="879.43" y2="167.63" stroke-width="1.3" />
<text transform="translate(872.14,193.46) rotate(40.9) scale(0.8,1)" font-size="38" text-anchor="start" font-weight="normal" >44.7</text>
<path d="M99.3,761.8 L524,761.8 Q540.6,762 540.6,779 L540.6,805 L543.9,805 L543.9,812.6 L547.1,812.6 L547.1,832" stroke-width="1.6" fill="none" />
<path d="M146,848.7 L146,832.5 L596.3,832.5 L596.3,848.7" stroke-width="1.7" fill="none" />
<path d="M146,848.7 Q168,858.4 214.8,858.5" stroke-width="1.4" fill="none" />
<path d="M596.3,848.7 Q574,858.4 525.5,858.5" stroke-width="1.4" fill="none" />
<line x1="99.3" y1="858.6" x2="525.5" y2="858.6" stroke-width="1.5" />
<line x1="146.5" y1="848.7" x2="214.8" y2="848.7" stroke-width="1.7" stroke-linecap="butt"/>
<line x1="225.2" y1="848.7" x2="594" y2="848.7" stroke-width="1.7" stroke-dasharray="14 11 14 12.5 63 11" stroke-linecap="butt"/>
<line x1="266" y1="774.1" x2="281" y2="774.1" stroke-width="0.9" />
<line x1="303" y1="774.1" x2="326" y2="774.1" stroke-width="0.9" />
<line x1="345" y1="774.1" x2="412" y2="774.1" stroke-width="0.9" />
<line x1="440" y1="774.1" x2="460" y2="774.1" stroke-width="0.9" />
<line x1="498" y1="774.1" x2="513" y2="774.1" stroke-width="0.9" />
<path d="M197.5,832 L199.5,775 Q200.1,763 209.5,762.6" stroke-width="3.0" fill="none" />
<path d="M211,832 L213,775 Q213.6,763 223,762.6" stroke-width="1.6" fill="none" />
<path d="M216,832 L218,775 Q218.6,763 228,762.6" stroke-width="1.6" fill="none" />
<path d="M235,832 L237,775 Q237.6,763 247,762.6" stroke-width="2.4" fill="none" />
<line x1="238.5" y1="832" x2="240" y2="763" stroke-width="1.1" />
<path d="M247.5,832 L249.5,775 Q250.1,763 259.5,762.6" stroke-width="1.6" fill="none" />
<path d="M262.5,832 L264.5,775 Q265.1,763 274.5,762.6" stroke-width="1.8" fill="none" />
<path d="M277.5,832 L279.5,775 Q280.1,763 289.5,762.6" stroke-width="2.2" fill="none" />
<path d="M288.5,832 L290.5,775 Q291.1,763 300.5,762.6" stroke-width="1.6" fill="none" />
<path d="M301,832 L303,775 Q303.6,763 313,762.6" stroke-width="1.6" fill="none" />
<path d="M325,832 L327,775 Q327.6,763 337,762.6" stroke-width="2.4" fill="none" />
<path d="M339,832 L341,775 Q341.6,763 351,762.6" stroke-width="1.6" fill="none" />
<line x1="344.5" y1="832" x2="346" y2="763" stroke-width="1.5" />
<line x1="375.5" y1="832" x2="377" y2="763" stroke-width="2.8" />
<line x1="379" y1="832" x2="380.5" y2="763" stroke-width="1.2" />
<path d="M389,832 L391,775 Q391.6,763 401,762.6" stroke-width="2.6" fill="none" />
<path d="M414,832 L416,775 Q416.6,763 426,762.6" stroke-width="1.8" fill="none" />
<path d="M427,832 L429,775 Q429.6,763 439,762.6" stroke-width="1.8" fill="none" />
<path d="M437.5,832 L439.5,775 Q440.1,763 449.5,762.6" stroke-width="2.6" fill="none" />
<path d="M495.5,832 L497.5,775 Q498.1,763 507.5,762.6" stroke-width="1.8" fill="none" />
<path d="M514,832 L516,775 Q516.6,763 526,762.6" stroke-width="1.8" fill="none" />
<path d="M521.5,832 L523.5,775 Q524.1,763 533.5,762.6" stroke-width="2.0" fill="none" />
<path d="M160.8,803.5 L160.8,796 Q161,791.5 165.5,789 L206.4,764" stroke-width="3.2" fill="none" />
<path d="M432.5,763.6 L471.5,763.6 L491.8,790.7 L458.5,790.7 Z" stroke-width="1.4" fill="#fff" />
<line x1="436" y1="766.4" x2="473" y2="766.4" stroke-width="1.0" />
<line x1="434.5" y1="765" x2="458.5" y2="790.7" stroke-width="3.0" />
<path d="M458.5,790.7 L491.8,790.7 L491.8,802 L458.5,802 Z" stroke-width="2.0" fill="#fff" />
<line x1="459" y1="796.5" x2="491.5" y2="796.5" stroke-width="0.9" />
<line x1="463" y1="802" x2="463" y2="832" stroke-width="1.6" />
<line x1="476.5" y1="802" x2="476.5" y2="832" stroke-width="1.6" />
<line x1="487" y1="802" x2="487" y2="832" stroke-width="1.6" />
<line x1="104.6" y1="762" x2="104.6" y2="858.6" stroke-width="1.0" />
<path d="M104.6,761.8 L108.35,780.8 L100.85,780.8 Z" fill="#000" stroke="none"/>
<path d="M104.6,858.8 L100.85,839.8 L108.35,839.8 Z" fill="#000" stroke="none"/>
<path d="M98.9,830.6 L73.5,830.6 M74.2,831.2 L78.9,837.3" stroke-width="2.5" fill="none" stroke-linecap="butt"/>
<text transform="translate(98.9,826.2) rotate(-90) scale(0.86,1)" font-size="38" text-anchor="start" font-weight="normal" >4.7</text>
<line x1="126.8" y1="831.8" x2="141.7" y2="831.8" stroke-width="1.3" />
<line x1="132.1" y1="792.6" x2="132.1" y2="831" stroke-width="1.0" />
<path d="M132.1,831.8 L128.35,812.8 L135.85,812.8 Z" fill="#000" stroke="none"/>
<line x1="132.1" y1="859.5" x2="132.1" y2="926.3" stroke-width="1.0" />
<path d="M132.1,858.8 L135.85,877.8 L128.35,877.8 Z" fill="#000" stroke="none"/>
<text transform="translate(126.8,913) rotate(-90) scale(0.95,1)" font-size="38" text-anchor="middle" font-weight="normal" >4</text>
<ellipse cx="868.4" cy="772.1" rx="104" ry="50" stroke-width="1.8"/>
<line x1="795.8" y1="806.9" x2="876.4" y2="732.7" stroke-width="2.0" />
<path d="M876.4,732.7 L892.8,742.9 L882.6,744.9 L884.3,755.6 L875.3,757.6 L877,767.8 L867.6,769.2 L869,779.1 L860.6,780.8 L862,790.7 L852.6,792.7 L854.3,802.9 L844.7,804.9 L846.7,814.5 L843,821.3" stroke-width="2.0" fill="none" />
<text transform="translate(799.4,865.2) scale(0.68,1)" font-size="29" text-anchor="start" font-weight="bold" >Ø</text>
<text transform="translate(818.6,865.2) scale(0.86,1)" font-size="29" text-anchor="start" font-weight="bold" >56</text>
<text transform="translate(848,865.2) scale(0.97,1)" font-size="29" text-anchor="start" font-weight="normal" >~62</text>
<text transform="translate(894.2,865.2) scale(1.08,1)" font-size="29" text-anchor="start" font-weight="normal" >mm</text>
<circle cx="458.7" cy="1352.9" r="224.8" stroke-width="2.0" fill="none" />
<path d="M443,1577.15 L443,1533.93 Q443,1527.93 436,1526.93 A175.5,175.5 0 1 1 481.7,1526.89 Q474.7,1527.89 474.7,1533.89 L474.7,1577.13" stroke-width="2.0" fill="none" />
<line x1="443" y1="1553.7" x2="474.7" y2="1553.7" stroke-width="2.0" />
<line x1="443" y1="1557.7" x2="474.7" y2="1557.7" stroke-width="1.6" />
<line x1="443" y1="1573" x2="474.7" y2="1573" stroke-width="1.6" />
<circle cx="262" cy="1352.9" r="10.2" stroke-width="1.5" fill="none" />
<line x1="262" y1="1342.7" x2="262" y2="1084.5" stroke-width="1.1" />
<circle cx="655.6" cy="1352.9" r="10.2" stroke-width="1.5" fill="none" />
<line x1="655.6" y1="1342.7" x2="655.6" y2="1084.5" stroke-width="1.1" />
<line x1="262" y1="1089.6" x2="655.6" y2="1089.6" stroke-width="1.0" />
<path d="M262,1089.6 L282,1085.9 L282,1093.3 Z" fill="#000" stroke="none"/>
<path d="M655.6,1089.6 L635.6,1093.3 L635.6,1085.9 Z" fill="#000" stroke="none"/>
<text transform="translate(458.8,1084.7) scale(0.8,1)" font-size="38" text-anchor="middle" font-weight="normal" >59.5</text>
<line x1="151.5" y1="1228.6" x2="249.5" y2="1267.7" stroke-width="1.5" />
<path d="M249.5,1267.7 L229.63,1263.54 L232.22,1257.04 Z" fill="#000" stroke="none"/>
<circle cx="170.1" cy="1217.2" r="8" stroke-width="1.3" fill="none" />
<line x1="161.81" y1="1225.32" x2="178.39" y2="1209.08" stroke-width="1.3" />
<text transform="translate(181.21,1235.1) rotate(21.8) scale(0.8,1)" font-size="38" text-anchor="start" font-weight="normal" >68</text>
<path d="M917.9,1128.2 L851.6,1128.2 Q845.6,1128.2 845.6,1134.2 L845.6,1572.2 Q845.6,1577.2 850.6,1577.2 L917.9,1577.2 Z" stroke-width="2.0" fill="none" />
<path d="M234.3,1803.4 L234.3,1734.2 Q234.3,1730.7 237.8,1730.7 L679.4,1730.7 Q683.4,1730.7 683.4,1734.7 L683.4,1803.4 Z" stroke-width="1.9" fill="none" />
<path d="M441.8,1731 L441.8,1748.5 Q441.8,1753.5 446.8,1753.5 L470.8,1753.5 Q475.8,1753.5 475.8,1748.5 L475.8,1731" stroke-width="1.4" fill="none" />
<line x1="441.8" y1="1734.8" x2="475.8" y2="1734.8" stroke-width="1.5" />
<line x1="441.8" y1="1738.7" x2="475.8" y2="1738.7" stroke-width="2.0" />
<line x1="180.7" y1="1730.7" x2="234" y2="1730.7" stroke-width="1.4" />
<line x1="180.7" y1="1803.4" x2="229.4" y2="1803.4" stroke-width="1.4" />
<line x1="185.8" y1="1731" x2="185.8" y2="1803" stroke-width="1.0" />
<path d="M185.8,1730.7 L189.8,1749.4 L181.8,1749.4 Z" fill="#000" stroke="none"/>
<path d="M185.8,1803.4 L181.8,1784.7 L189.8,1784.7 Z" fill="#000" stroke="none"/>
<path d="M180.9,1757.6 L154.9,1757.6 M155.5,1758.2 L160.3,1764.6 M180.9,1770.4 L154.9,1770.4 M155.5,1771 L160.3,1777.4" stroke-width="2.6" fill="none" stroke-linecap="butt"/>
</svg>
</body></html>
